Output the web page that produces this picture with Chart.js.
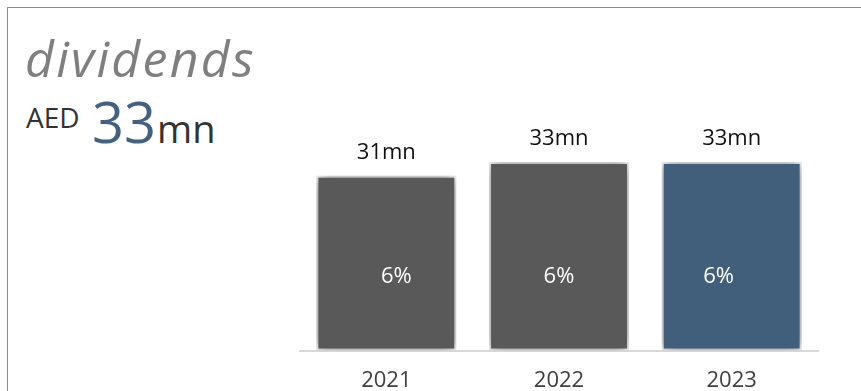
<!DOCTYPE html>
<html>
<head>
<meta charset="utf-8">
<script src="https://cdn.jsdelivr.net/npm/chart.js@4.4.1/dist/chart.umd.min.js"></script>
<style>
  html, body { margin: 0; padding: 0; background: #fff; }
  body { width: 861px; height: 391px; position: relative; overflow: hidden; font-family: "Open Sans", sans-serif; }
  .frame { position: absolute; left: 7px; top: 7px; right: -2px; bottom: -2px; border-top: 1px solid #8c8c8c; border-left: 1px solid #8c8c8c; }
  .t { position: absolute; line-height: 1; white-space: nowrap; }
  .title { left: 25px; top: 33px; font-size: 50px; font-style: italic; color: #7f7f7f; letter-spacing: 2.3px; }
  .cur { left: 26px; top: 103px; font-size: 28px; color: #333; }
  .num { left: 92px; top: 93px; font-size: 56px; color: #44627e; }
  .unit { left: 157px; top: 109px; font-size: 38px; color: #333; }
  #wrap { position: absolute; left: 0; top: 0; width: 861px; height: 403px; }
</style>
</head>
<body>
<div class="frame"></div>
<div class="t title">dividends</div>
<div class="t cur">AED</div>
<div class="t num">33</div>
<div class="t unit">mn</div>
<div id="wrap"><canvas id="divChart"></canvas></div>
<script>
// values
const years = ['2021', '2022', '2023'];
const dividends = [30.6, 33, 33];          // AED mn (bar heights)
const valueLabels = ['31mn', '33mn', '33mn'];
const yieldLabels = ['6%', '6%', '6%'];
const barColors = ['#595959', '#595959', '#415e7a'];

// soft glow round the bars
const barShadow = {
  id: 'barShadow',
  beforeDatasetDraw(chart) {
    const c = chart.ctx;
    c.save();
    c.shadowColor = 'rgba(0,0,0,0.55)';
    c.shadowBlur = 12;
  },
  afterDatasetDraw(chart) {
    chart.ctx.restore();
  }
};

// labels above and inside the bars
const yieldShift = [10, 0, -13];
const barText = {
  id: 'barText',
  afterDatasetsDraw(chart) {
    const c = chart.ctx;
    const meta = chart.getDatasetMeta(0);
    c.save();
    c.textAlign = 'center';
    c.textBaseline = 'middle';
    c.font = '22px "Open Sans", sans-serif';
    meta.data.forEach((bar, i) => {
      c.fillStyle = '#111';
      c.fillText(valueLabels[i], bar.x, bar.y - 23);
      c.fillStyle = '#fff';
      c.fillText(yieldLabels[i], bar.x + yieldShift[i], 277);
    });
    c.restore();
  }
};

new Chart(document.getElementById('divChart'), {
  type: 'bar',
  data: {
    labels: years,
    datasets: [{
      data: dividends,
      backgroundColor: barColors,
      borderColor: '#fff',
      borderWidth: 2,
      borderSkipped: false,
      barPercentage: 0.81,
      categoryPercentage: 1
    }]
  },
  options: {
    responsive: true,
    maintainAspectRatio: false,
    animation: false,
    layout: { padding: { left: 300, right: 43, top: 122, bottom: 0 } },
    plugins: { legend: { display: false }, tooltip: { enabled: false } },
    scales: {
      x: {
        grid: { display: false },
        border: { display: true, color: '#d9d9d9', width: 2 },
        ticks: { color: '#404040', padding: 9, font: { size: 22, family: '"Open Sans", sans-serif' } }
      },
      y: { display: false, min: 0, max: 40 }
    }
  },
  plugins: [barShadow, barText]
});
</script>
</body>
</html>
